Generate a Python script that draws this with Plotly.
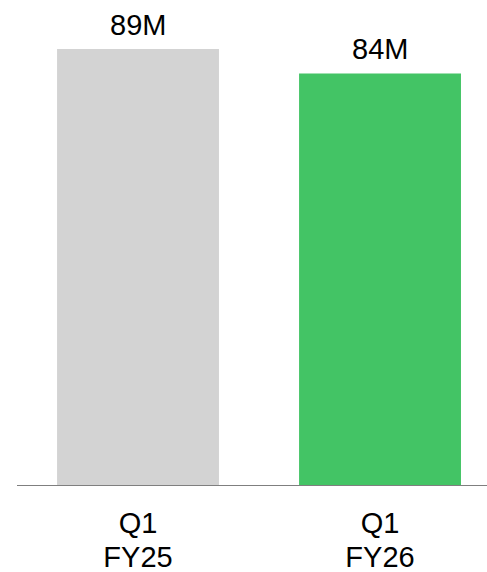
import plotly.graph_objects as go

quarters = ["Q1", "Q1"]
years = ["FY25", "FY26"]
values = [89, 84]
value_labels = ["89M", "84M"]
colors = ["#D3D3D3", "#43C465"]

FONT = "Liberation Sans, Arial, sans-serif"
FS = 29
x = list(range(len(values)))

fig = go.Figure()
fig.add_trace(go.Bar(x=x, y=values, marker=dict(color=colors, line=dict(width=0)),
                     width=0.669, hoverinfo="skip", showlegend=False))
# invisible trace to activate second x axis (year labels)
fig.add_trace(go.Scatter(x=x, y=[0, 0], xaxis="x2", mode="markers",
                         marker=dict(opacity=0), showlegend=False, hoverinfo="skip"))

for xi, v, lab in zip(x, values, value_labels):
    fig.add_annotation(x=xi, y=v, text=lab, showarrow=False, yanchor="bottom",
                       yshift=6, font=dict(family=FONT, size=FS, color="#000000"))

fig.update_layout(
    width=487, height=572,
    margin=dict(l=17, r=0, t=0, b=87),
    paper_bgcolor="white", plot_bgcolor="white",
    xaxis=dict(range=[-0.5, 1.442], tickvals=x, ticktext=quarters,
               showgrid=False, zeroline=False, showline=True,
               linecolor="#7f7f7f", linewidth=1, ticks="",
               ticklabelstandoff=12,
               tickfont=dict(family=FONT, size=FS, color="#000000")),
    xaxis2=dict(overlaying="x", matches="x", side="bottom", tickvals=x, ticktext=years,
                showgrid=False, zeroline=False, showline=False, ticks="",
                ticklabelstandoff=52,
                tickfont=dict(family=FONT, size=FS, color="#000000")),
    yaxis=dict(range=[0, 99], visible=False, showgrid=False, zeroline=False),
)

fig.write_html("out.html")
